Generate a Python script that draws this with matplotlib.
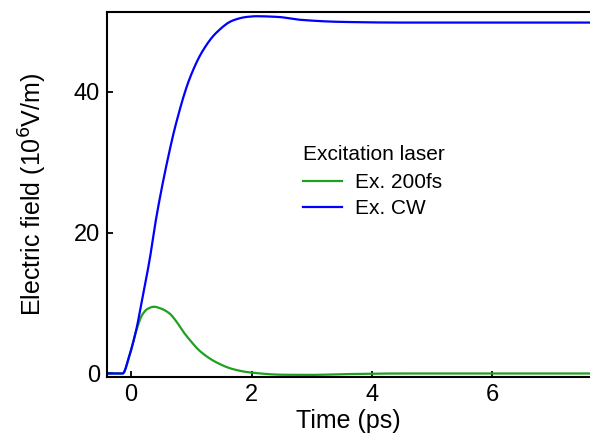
import numpy as np
import matplotlib.pyplot as plt

plt.rcParams["font.family"] = ["Liberation Sans", "DejaVu Sans"]

# values (time in ps, field in 1e6 V/m)
t_cw = [-0.4, -0.14, -0.03, 0.083, 0.19, 0.305, 0.42, 0.583, 0.75, 0.97,
        1.19, 1.42, 1.69, 1.92, 2.08, 2.44, 2.8, 3.47, 4.47, 5.5, 6.5, 7.62]
e_cw = [0.0, 0.0, 2.5, 6.1, 10.8, 16.0, 22.2, 29.4, 35.6, 41.8,
        45.8, 48.4, 50.1, 50.6, 50.7, 50.6, 50.2, 49.9, 49.8, 49.8, 49.8, 49.8]

t_fs = [-0.4, -0.14, -0.03, 0.083, 0.19, 0.28, 0.38, 0.5, 0.64, 0.75, 0.86,
        1.0, 1.14, 1.42, 1.69, 1.97, 2.53, 3.0, 3.5, 4.5, 5.5, 6.5, 7.62]
e_fs = [0.0, 0.0, 2.4, 6.0, 8.4, 9.2, 9.47, 9.2, 8.5, 7.4, 6.0,
        4.5, 3.2, 1.56, 0.62, 0.15, -0.18, -0.2, -0.1, 0.0, 0.0, 0.0, 0.0]

xticks = [0, 2, 4, 6]
yticks = [0, 20, 40]


def smooth(tk, vk, n=800):
    # monotone cubic (PCHIP-like) interpolation, only to draw a smooth line
    tk = np.asarray(tk, float)
    vk = np.asarray(vk, float)
    h = np.diff(tk)
    d = np.diff(vk) / h
    m = np.zeros_like(vk)
    for i in range(1, len(vk) - 1):
        if d[i - 1] * d[i] > 0:
            w1 = 2 * h[i] + h[i - 1]
            w2 = h[i] + 2 * h[i - 1]
            m[i] = (w1 + w2) / (w1 / d[i - 1] + w2 / d[i])
    m[0] = d[0]
    m[-1] = d[-1]
    tt = np.linspace(tk[0], tk[-1], n)
    idx = np.clip(np.searchsorted(tk, tt) - 1, 0, len(h) - 1)
    s = (tt - tk[idx]) / h[idx]
    h00 = 2 * s**3 - 3 * s**2 + 1
    h10 = s**3 - 2 * s**2 + s
    h01 = -2 * s**3 + 3 * s**2
    h11 = s**3 - s**2
    yy = (h00 * vk[idx] + h10 * h[idx] * m[idx]
          + h01 * vk[idx + 1] + h11 * h[idx] * m[idx + 1])
    return tt, yy


fig = plt.figure(figsize=(5.9, 4.41), dpi=100)
ax = fig.add_axes([107 / 590, 64 / 441, 483 / 590, 365 / 441])

x, y = smooth(t_fs, e_fs)
ax.plot(x, y, color="#20a020", lw=1.6, label="Ex. 200fs")
x, y = smooth(t_cw, e_cw)
ax.plot(x, y, color="#0000ff", lw=1.6, label="Ex. CW")

ax.set_xlim(-0.4, 7.62)
ax.set_ylim(-0.5, 51.3)
ax.set_xticks(xticks)
ax.set_yticks(yticks)
ax.tick_params(direction="in", length=4, width=1.3, labelsize=17, pad=5)
ax.spines["right"].set_visible(False)
for s in ["left", "top", "bottom"]:
    ax.spines[s].set_linewidth(1.5)

ax.set_xlabel("Time (ps)", fontsize=18, labelpad=2)
ax.set_ylabel("Electric field (10$^6$V/m)", fontsize=18, labelpad=18)

leg = ax.legend(title="Excitation laser", loc="upper left",
                bbox_to_anchor=(284 / 590, 1 - 126 / 441), bbox_transform=fig.transFigure,
                frameon=False, fontsize=15, title_fontsize=15, alignment="left",
                handlelength=1.9, handletextpad=0.6, labelspacing=0.32)
leg._legend_box.sep = 7

fig.savefig("out.png", dpi=100)
